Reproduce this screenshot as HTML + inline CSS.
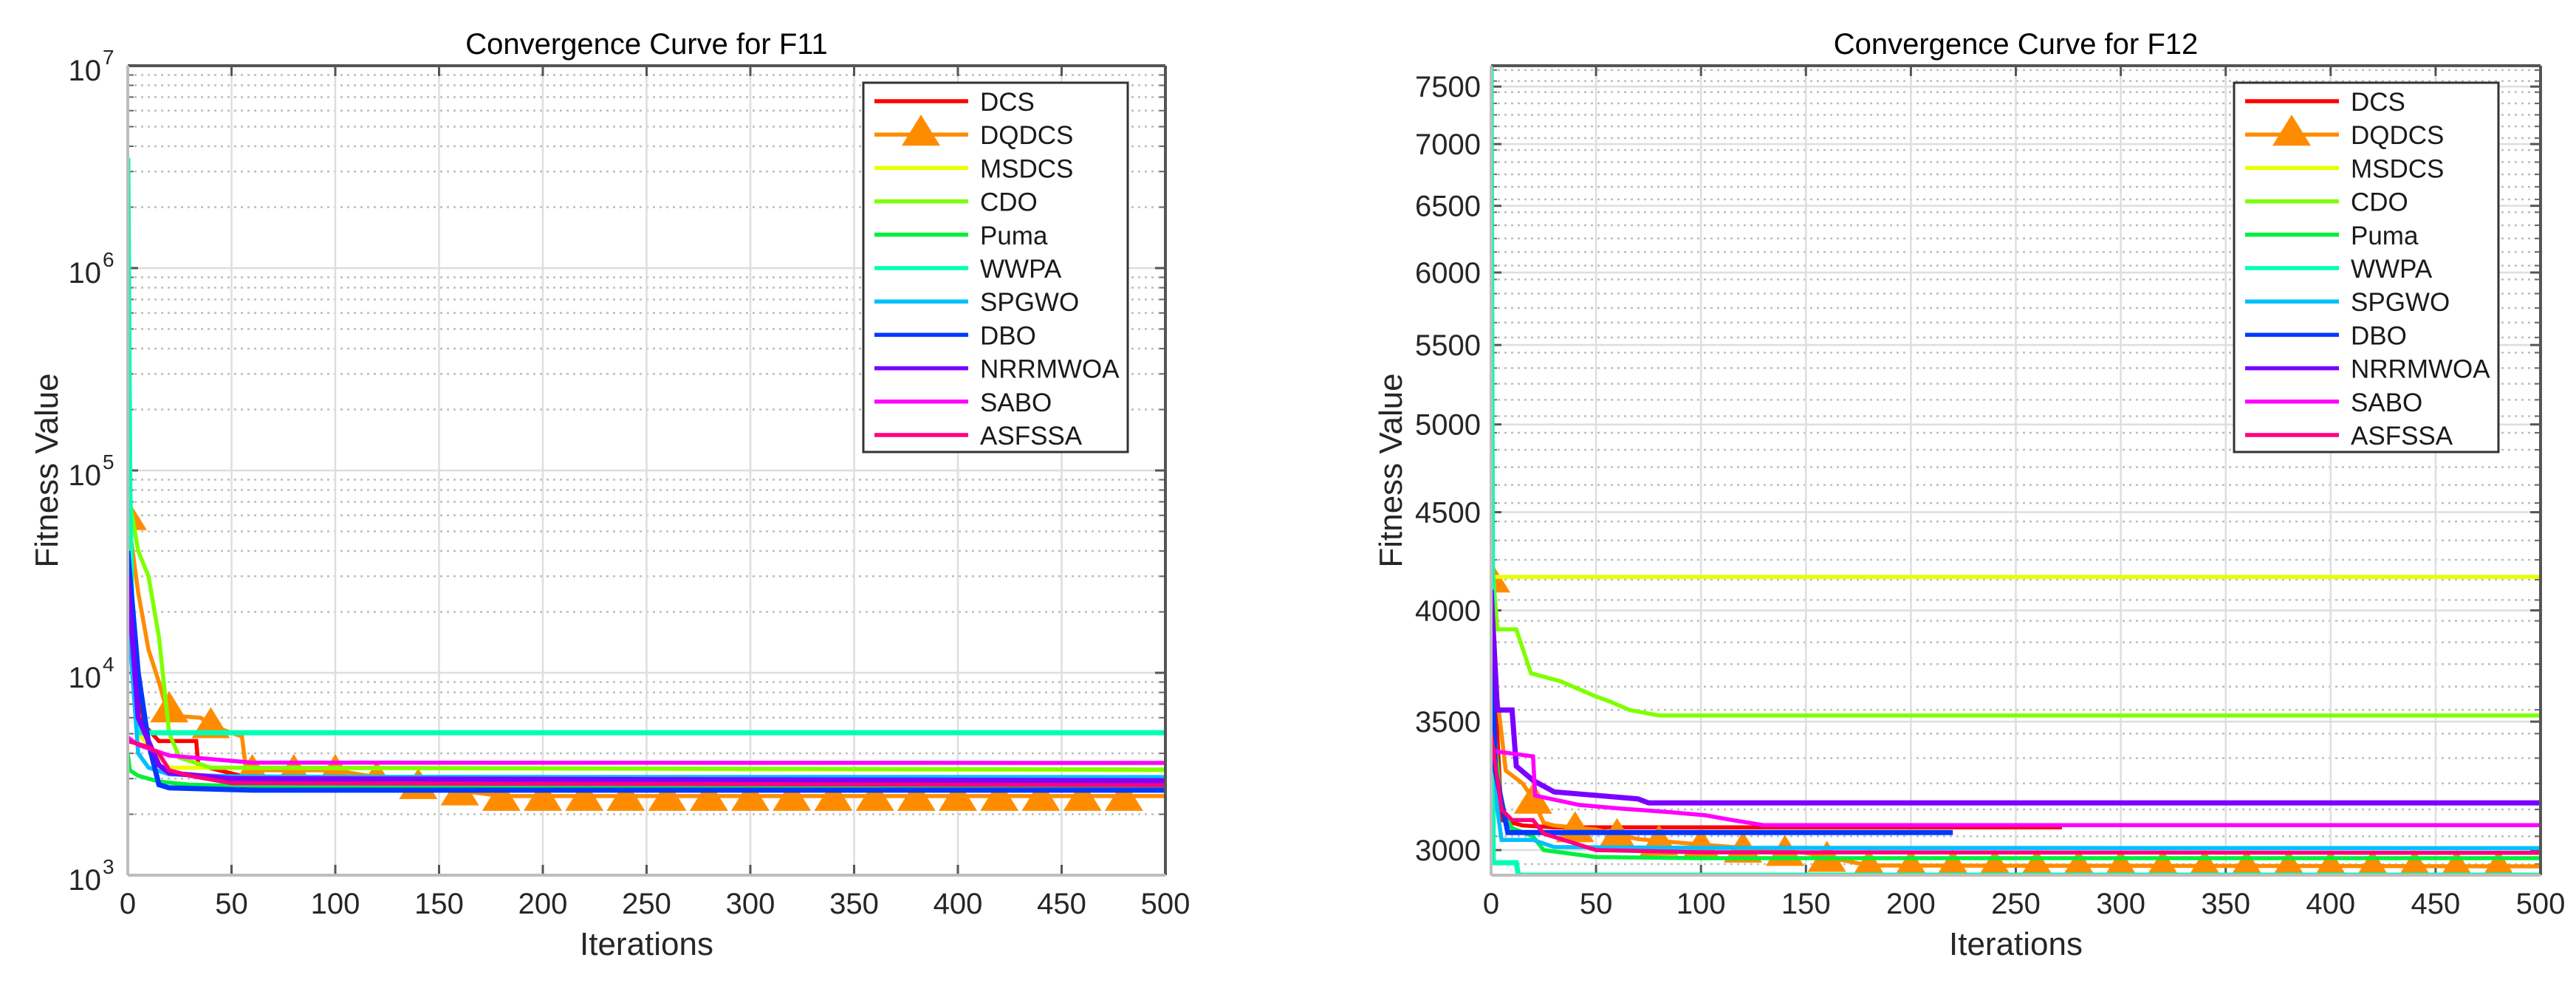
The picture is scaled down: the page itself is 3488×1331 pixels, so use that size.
<!DOCTYPE html>
<html><head><meta charset="utf-8"><style>
html,body{margin:0;padding:0;background:#fff;}
svg{display:block;font-family:"Liberation Sans",Arial,sans-serif;}
</style></head><body>
<svg id="fig" width="3488" height="1331" viewBox="0 0 3488 1331" xmlns="http://www.w3.org/2000/svg"></svg>
<script>
// ---------- shared data ----------
const seriesNames = ["DCS","DQDCS","MSDCS","CDO","Puma","WWPA","SPGWO","DBO","NRRMWOA","SABO","ASFSSA"];
const seriesColors = ["#ff0000","#ff8c00","#e8ff00","#7fff00","#00f03c","#00ffb4","#00bfff","#0038ff","#7a00ff","#ff00ff","#ff0080"];
const xTicks = [0,50,100,150,200,250,300,350,400,450,500];

// ---------- F11 data (iteration breakpoints / fitness values) ----------
const f11It = {
  DCS:    [0,3,8,15,33,34,60,100,500],
  DQDCS:  [0,5,10,15,18,25,35,45,55,57,100,150,180,500],
  MSDCS:  [0,5,20,500],
  CDO:    [0,5,10,15,20,25,40,500],
  Puma:   [0,1,5,15,30,60,500],
  WWPA:   [0,1,2,5,500],
  SPGWO:  [0,5,10,20,50,100,500],
  DBO:    [0,5,10,15,20,60,500],
  NRRMWOA:[0,5,15,20,50,500],
  SABO:   [0,5,20,60,500],
  ASFSSA: [0,10,15,20,30,50,500]
};
const f11Val = {
  DCS:    [50000,12000,5500,4600,4600,3500,3000,2900,2850],
  DQDCS:  [60000,25000,13000,9000,7000,6100,6000,5270,4850,3300,3300,2700,2460,2460],
  MSDCS:  [30000,5000,3400,3300],
  CDO:    [80000,40000,30000,15000,5000,3800,3400,3326],
  Puma:   [4000,3300,3100,2900,2800,2750,2700],
  WWPA:   [3500000,80000,20000,5060,5060],
  SPGWO:  [20000,4000,3400,3150,3080,3060,3055],
  DBO:    [40000,10000,4500,2800,2700,2630,2630],
  NRRMWOA:[30000,6000,3500,3200,3000,2930],
  SABO:   [4800,4400,3900,3600,3588],
  ASFSSA: [4600,4300,4000,3300,3100,2850,2786]
};
const f11DqMarkIt = [0,20,40,60,80,100,120,140,160,180,200,220,240,260,280,300,320,340,360,380,400,420,440,460,480];

// ---------- F12 data ----------
const f12It = {
  DCS:    [0,5,15,30,272],
  DQDCS:  [0,3,7,15,20,25,30,50,70,100,150,180,500],
  MSDCS:  [0,500],
  CDO:    [0,3,12,19,33,49,57,66,80,500],
  Puma:   [0,5,10,20,25,50,100,500],
  WWPA:   [0,1,12,13,500],
  SPGWO:  [0,3,5,20,30,100,500],
  DBO:    [0,2,8,220],
  NRRMWOA:[0,3,10,12,20,30,70,75,500],
  SABO:   [0,20,21,42,62,85,102,115,130,500],
  ASFSSA: [0,5,10,20,25,50,100,500]
};
const f12Val = {
  DCS:    [4000,3110,3090,3083,3083],
  DQDCS:  [4160,3600,3300,3250,3190,3100,3090,3075,3040,3020,2990,2945,2942],
  MSDCS:  [4164,4164],
  CDO:    [4300,3910,3910,3709,3674,3611,3584,3549,3526,3526],
  Puma:   [3600,3150,3080,3050,3000,2975,2971,2971],
  WWPA:   [7700,2955,2955,2911,2911],
  SPGWO:  [3600,3150,3037,3037,3011,3008,3007],
  DBO:    [4000,3300,3064,3064],
  NRRMWOA:[4100,3549,3549,3318,3262,3217,3190,3175,3175],
  SABO:   [3380,3357,3203,3167,3153,3140,3128,3110,3091,3091],
  ASFSSA: [3450,3150,3110,3110,3060,3000,2992,2990]
};
const f12DqMarkIt = [0,20,40,60,80,100,120,140,160,180,200,220,240,260,280,300,320,340,360,380,400,420,440,460,480];
const f12YTicks = [3000,3500,4000,4500,5000,5500,6000,6500,7000,7500];

// ---------- helpers ----------
const NS = "http://www.w3.org/2000/svg";
const svg = document.getElementById("fig");
function mk(tag, attrs, parent){
  const e = document.createElementNS(NS, tag);
  for (const k in attrs) e.setAttribute(k, attrs[k]);
  (parent||svg).appendChild(e);
  return e;
}
function interp(its, vals, t, logy){
  for (let i=0;i<its.length-1;i++){
    if (t>=its[i] && t<=its[i+1]){
      const f = its[i+1]===its[i]?1:(t-its[i])/(its[i+1]-its[i]);
      if (logy) return Math.pow(10, Math.log10(vals[i])+f*(Math.log10(vals[i+1])-Math.log10(vals[i])));
      return vals[i]+f*(vals[i+1]-vals[i]);
    }
  }
  return vals[vals.length-1];
}

function drawChart(cfg){
  const {L,R,T,B,ymin,ymax,title,its,vals,markIts,legX,id} = cfg;
  const g = mk("g",{});
  
  
  const xs = v => L + (v-0)/(500-0)*(R-L);
  const ys = v => B - (Math.log10(v)-Math.log10(ymin))/(Math.log10(ymax)-Math.log10(ymin))*(B-T);
  const clip = mk("clipPath",{id:id+"clip"},g);
  mk("rect",{x:L,y:T,width:R-L,height:B-T},clip);

  const gridG = mk("g",{},g);
  
  
  let minor=[], major=[];
  if (cfg.logTicks){
    for (let d=3; d<7; d++) for (let m=2;m<=9;m++) minor.push(m*Math.pow(10,d));
    for (let d=3; d<=7; d++) major.push(Math.pow(10,d));
  } else {
    for (let v=2950; v<=7650; v+=100) if (v%500!==0) minor.push(v);
    major = f12YTicks.slice();
  }
  minor.forEach(v=>{ const y=ys(v); if(y>T+1&&y<B-1){
    mk("line",{x1:L,x2:R,y1:y,y2:y,stroke:"#bdbdbd","stroke-width":2.5,"stroke-dasharray":"3 6"},gridG);
    mk("line",{x1:L,x2:L+8,y1:y,y2:y,stroke:"#666","stroke-width":2},gridG);
    mk("line",{x1:R-8,x2:R,y1:y,y2:y,stroke:"#666","stroke-width":2},gridG);
  }});
  major.forEach(v=>{ const y=ys(v); if(y>=T-1&&y<=B+1){
    mk("line",{x1:L,x2:R,y1:y,y2:y,stroke:"#dedede","stroke-width":2.5},gridG);
    mk("line",{x1:L,x2:L+14,y1:y,y2:y,stroke:"#555","stroke-width":3},gridG);
    mk("line",{x1:R-14,x2:R,y1:y,y2:y,stroke:"#555","stroke-width":3},gridG);
  }});
  xTicks.forEach(v=>{ const x=xs(v);
    mk("line",{x1:x,x2:x,y1:T,y2:B,stroke:"#dedede","stroke-width":2.5},gridG);
    mk("line",{x1:x,x2:x,y1:B-14,y2:B,stroke:"#555","stroke-width":3},gridG);
    mk("line",{x1:x,x2:x,y1:T,y2:T+14,stroke:"#555","stroke-width":3},gridG);
  });

  const serG = mk("g",{"clip-path":`url(#${id}clip)`},g);
  seriesNames.forEach((nm,si)=>{
    const it = its[nm], vv = vals[nm];
    let d = "";
    it.forEach((t,i)=>{ d += (i?"L":"M")+xs(t).toFixed(1)+","+ys(vv[i]).toFixed(1)+" "; });
    const p = mk("path",{d:d,fill:"none",stroke:seriesColors[si],"stroke-width":nm==="WWPA"||nm==="DBO"||nm==="NRRMWOA"?7:5.5,"stroke-linejoin":"miter"},serG);
    
    
    if (nm==="DQDCS"){
      markIts.forEach(t=>{
        const v = interp(it, vv, t, true);
        const x = xs(t), y = ys(v);
        const tri = mk("polygon",{points:`${x},${y-22} ${x-26},${y+20} ${x+26},${y+20}`,fill:"#ff8c00"},serG);
        
        
      });
    }
  });

  mk("line",{x1:L,x2:R,y1:T,y2:T,stroke:"#555","stroke-width":4},g);
  mk("line",{x1:R,x2:R,y1:T,y2:B,stroke:"#555","stroke-width":4},g);
  mk("line",{x1:L,x2:L,y1:T,y2:B,stroke:"#bdbdbd","stroke-width":4},g);
  mk("line",{x1:L,x2:R,y1:B,y2:B,stroke:"#bdbdbd","stroke-width":4},g);

  xTicks.forEach(v=>{
    const t = mk("text",{x:xs(v),y:B+52,"text-anchor":"middle","font-size":40,fill:"#262626"},g);
    t.textContent = v;
    
    
  });
  if (cfg.logTicks){
    [3,4,5,6,7].forEach(e=>{
      const y = ys(Math.pow(10,e));
      const t = mk("text",{x:L-36,y:y+20,"text-anchor":"end","font-size":40,fill:"#262626"},g);
      t.textContent = "10";
      
      
      const s = mk("text",{x:L-34,y:y-2,"text-anchor":"start","font-size":28,fill:"#262626"},g);
      s.textContent = e;
      
      
    });
  } else {
    f12YTicks.forEach(v=>{
      const t = mk("text",{x:L-14,y:ys(v)+14,"text-anchor":"end","font-size":40,fill:"#262626"},g);
      t.textContent = v;
      
      
    });
  }
  const tt = mk("text",{x:(L+R)/2,y:T-16,"text-anchor":"middle","font-size":40,fill:"#000"},g);
  tt.textContent = title;
  
  
  const xl = mk("text",{x:(L+R)/2,y:B+108,"text-anchor":"middle","font-size":44,fill:"#262626"},g);
  xl.textContent = "Iterations";
  
  
  const yx = cfg.ylabX, yy=(T+B)/2;
  const yl = mk("text",{x:yx,y:yy,"text-anchor":"middle","font-size":44,fill:"#262626",transform:`rotate(-90 ${yx} ${yy})`},g);
  yl.textContent = "Fitness Value";
  
  

  const lg = mk("g",{},g);
  
  
  mk("rect",{x:legX,y:112,width:358,height:500,fill:"#fff",stroke:"#333","stroke-width":3},lg);
  seriesNames.forEach((nm,i)=>{
    const y = 137 + i*45.2;
    const e = mk("g",{},lg);
    
    
    mk("line",{x1:legX+15,x2:legX+142,y1:y,y2:y,stroke:seriesColors[i],"stroke-width":5.5},e);
    if (nm==="DQDCS"){
      const cx=legX+78;
      mk("polygon",{points:`${cx},${y-27} ${cx-26},${y+15} ${cx+26},${y+15}`,fill:"#ff8c00"},e);
    }
    const t = mk("text",{x:legX+158,y:y+13,"font-size":35,fill:"#1a1a1a"},e);
    t.textContent = nm;
  });
}

drawChart({id:"f11",L:173,R:1578,T:89,B:1185,ymin:1000,ymax:1e7,logTicks:true,
  title:"Convergence Curve for F11",its:f11It,vals:f11Val,markIts:f11DqMarkIt,legX:1169,ylabX:78});
drawChart({id:"f12",L:2019,R:3440,T:89,B:1185,ymin:2911,ymax:7690,logTicks:false,
  title:"Convergence Curve for F12",its:f12It,vals:f12Val,markIts:f12DqMarkIt,legX:3025,ylabX:1898});
</script>
</body></html>
